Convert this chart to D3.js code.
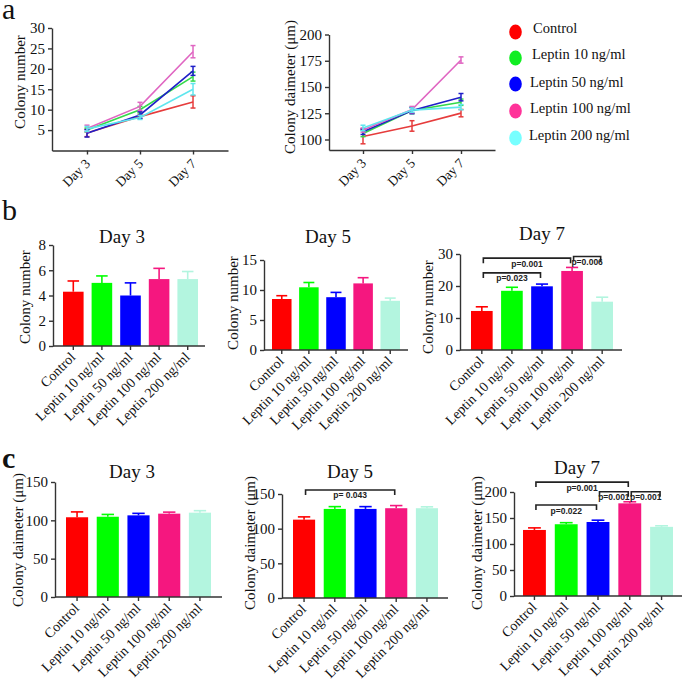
<!DOCTYPE html>
<html><head><meta charset="utf-8">
<script src="https://cdn.jsdelivr.net/npm/d3@7"></script>
<style>
body{margin:0;background:#fff}svg{display:block}
.serif{font-family:"Liberation Serif","Times New Roman","DejaVu Serif",serif}
.sans{font-family:"Liberation Sans",Arial,"DejaVu Sans",sans-serif}
svg text{font-family:"Liberation Serif","Times New Roman","DejaVu Serif",serif}
</style>
</head><body><svg id="c" width="684" height="693"></svg>
<script>
// ---------- data ----------
const days = ["Day 3", "Day 5", "Day 7"];
const groups = ["Control", "Leptin 10 ng/ml", "Leptin 50 ng/ml", "Leptin 100 ng/ml", "Leptin 200 ng/ml"];
const legendColors = ["#ff0000", "#11ee22", "#0000ff", "#ff3399", "#77ffff"];
const lineColors = ["#e63c3c", "#33d94a", "#1f1fc8", "#e066c2", "#5fe6ee"];
const barColors = ["#ff0000", "#00ff00", "#0000ff", "#f5177f", "#b3f5df"];

// panel a (rows = groups, columns = days)
const numLineMean = [[4.3, 8.3, 11.9], [5.0, 10.0, 18.1], [4.2, 8.7, 19.5], [5.4, 10.8, 24.2], [5.3, 8.1, 15.0]];
const numLineErr = [[0.9, 0.5, 1.5], [0.5, 0.8, 1.1], [0.9, 0.8, 1.1], [0.8, 1.0, 1.5], [0.6, 0.5, 1.4]];
const diaLineMean = [[102.9, 112.9, 125.1], [105.7, 127.6, 135.5], [107.4, 127.6, 140.3], [109.0, 128.5, 175.7], [111.0, 128.0, 130.8]];
const diaLineErr = [[7, 5, 3.5], [3, 3, 3], [2.6, 3, 3.5], [2, 3, 3], [2.6, 2, 2.5]];
const numTicks = [5, 10, 15, 20, 25, 30];
const diaTicks = [100, 125, 150, 175, 200];

// panel b: colony number
const numDay3Mean = [4.3, 5.0, 4.0, 5.3, 5.3];
const numDay3Err = [0.85, 0.55, 1.0, 0.85, 0.6];
const numDay5Mean = [8.5, 10.45, 8.8, 11.1, 8.2];
const numDay5Err = [0.55, 0.8, 0.8, 0.95, 0.45];
const numDay7Mean = [12.2, 18.5, 19.9, 24.7, 15.1];
const numDay7Err = [1.3, 1.1, 0.7, 1.1, 1.4];
const numDay7Brackets = [
  {from: 0, to: 3, y: 28.7, label: "p=0.001"},
  {from: 3, to: 4, y: 29.2, label: "p=0.006"},
  {from: 0, to: 2, y: 24.1, label: "p=0.023"}
];

// panel c: colony diameter
const diaDay3Mean = [104, 104.7, 106.5, 108.7, 110];
const diaDay3Err = [7, 3, 2.6, 2, 2.6];
const diaDay5Mean = [113, 128.5, 128.5, 129.5, 129.5];
const diaDay5Err = [4, 3.3, 3.3, 3.8, 2];
const diaDay5Brackets = [{from: 0, to: 3, y: 155.8, label: "p= 0.043"}];
const diaDay7Mean = [127, 138, 142.3, 178.2, 133];
const diaDay7Err = [4, 3, 3.5, 3, 2];
const diaDay7Brackets = [
  {from: 0, to: 3, y: 219, label: "p=0.001"},
  {from: 2, to: 3, y: 200.6, label: "p=0.001"},
  {from: 3, to: 4, y: 200.6, label: "p=0.001"},
  {from: 0, to: 2, y: 175, label: "p=0.022"}
];

// ---------- drawing ----------
const svg = d3.select("#c");
const AX = "#333";

function styleAxis(g) {
  g.attr("font-family", null);
  g.selectAll("path.domain").attr("stroke", AX).attr("stroke-width", 1.4);
  g.selectAll(".tick line").attr("stroke", AX).attr("stroke-width", 1.4);
  g.selectAll(".tick text").attr("class", "serif").style("font-size", "15px").attr("fill", "#111");
}

function txt(sel, size, cls) {
  return sel.attr("class", cls || "serif").style("font-size", size + "px").attr("fill", "#111");
}

function yLabel(text, x, y, size) {
  txt(svg.append("text"), size || 15).attr("transform", `translate(${x},${y}) rotate(-90)`)
    .attr("text-anchor", "middle").text(text);
}

function panelLetter(t, x, y, bold) {
  txt(svg.append("text"), 30).attr("x", x).attr("y", y)
    .style("font-weight", bold ? "bold" : "normal").text(t);
}

function lineChart(o) {
  const x = d3.scalePoint().domain(days).range([o.x0, o.x1]).padding(o.pad);
  const y = d3.scaleLinear().domain(o.domain).range([o.y0, o.yTop]);
  const gy = svg.append("g").attr("transform", `translate(${o.x0},0)`)
    .call(d3.axisLeft(y).tickValues(o.ticks).tickSize(4).tickSizeOuter(0));
  styleAxis(gy);
  const gx = svg.append("g").attr("transform", `translate(0,${o.y0})`)
    .call(d3.axisBottom(x).tickSize(4).tickSizeOuter(0));
  styleAxis(gx);
  gx.selectAll(".tick text").remove();
  days.forEach(d => {
    txt(svg.append("text"), 13.5).attr("transform", `translate(${x(d) + 4},${o.y0 + 14}) rotate(-45)`)
      .attr("text-anchor", "end").text(d);
  });
  const line = d3.line().x((v, i) => x(days[i])).y(v => y(v));
  o.mean.forEach((row, gi) => {
    const c = lineColors[gi];
    svg.append("path").attr("d", line(row)).attr("fill", "none").attr("stroke", c).attr("stroke-width", 1.6);
    row.forEach((v, di) => {
      const cx = x(days[di]), e = o.err[gi][di];
      const g = svg.append("g").attr("stroke", c).attr("stroke-width", 1.5);
      g.append("line").attr("x1", cx).attr("x2", cx).attr("y1", y(v - e)).attr("y2", y(v + e));
      g.append("line").attr("x1", cx - 2.5).attr("x2", cx + 2.5).attr("y1", y(v - e)).attr("y2", y(v - e));
      g.append("line").attr("x1", cx - 2.5).attr("x2", cx + 2.5).attr("y1", y(v + e)).attr("y2", y(v + e));
    });
  });
  yLabel(o.ylabel, o.labX, o.labY, 15);
}

function barChart(o) {
  const x = d3.scaleBand().domain(groups).range(o.band).paddingInner(0.28).paddingOuter(0);
  const y = d3.scaleLinear().domain([0, o.yMax]).range([o.y0, o.yTop]);
  const bw = x.bandwidth();
  o.mean.forEach((v, i) => {
    const g = groups[i];
    svg.append("rect").attr("x", x(g)).attr("y", y(v)).attr("width", bw)
      .attr("height", y(0) - y(v)).attr("fill", barColors[i]);
    const cx = x(g) + bw / 2, top = y(v + o.err[i]);
    const eg = svg.append("g").attr("stroke", barColors[i]).attr("stroke-width", 1.6);
    eg.append("line").attr("x1", cx).attr("x2", cx).attr("y1", y(v)).attr("y2", top);
    eg.append("line").attr("x1", cx - bw * 0.28).attr("x2", cx + bw * 0.28).attr("y1", top).attr("y2", top);
  });
  const gy = svg.append("g").attr("transform", `translate(${o.axisX},0)`)
    .call(d3.axisLeft(y).tickValues(o.ticks).tickSize(4).tickSizeOuter(0));
  styleAxis(gy);
  svg.append("line").attr("x1", o.axisX).attr("x2", o.axisEnd).attr("y1", o.y0).attr("y2", o.y0)
    .attr("stroke", AX).attr("stroke-width", 1.4);
  const gx = svg.append("g").attr("transform", `translate(0,${o.y0})`)
    .call(d3.axisBottom(x).tickSize(4).tickSizeOuter(0));
  gx.select("path.domain").remove();
  styleAxis(gx);
  gx.selectAll(".tick text").remove();
  groups.forEach(gname => {
    txt(svg.append("text"), 14).attr("transform", `translate(${x(gname) + bw / 2 + 3},${o.y0 + 12}) rotate(-45)`)
      .attr("text-anchor", "end").text(gname);
  });
  txt(svg.append("text"), 19).attr("x", o.titleX).attr("y", o.titleY).attr("text-anchor", "middle").text(o.title);
  yLabel(o.ylabel, o.labX, o.labY, 15);
  (o.brackets || []).forEach(b => {
    const x1 = x(groups[b.from]) + bw / 2 + 1.5, x2 = x(groups[b.to]) + bw / 2 - 1.5;
    const yy = y(b.y);
    svg.append("path").attr("d", `M${x1},${yy + 5}V${yy}H${x2}V${yy + 5}`)
      .attr("fill", "none").attr("stroke", "#222").attr("stroke-width", 1.6);
    txt(svg.append("text"), 8.5, "sans").attr("x", (x1 + x2) / 2).attr("y", yy + 8.5)
      .attr("text-anchor", "middle").style("font-weight", "bold").attr("fill", "#222").text(b.label);
  });
}

// panel a
panelLetter("a", 2, 19, false);
lineChart({mean: numLineMean, err: numLineErr, domain: [0, 30], ticks: numTicks,
  x0: 52, x1: 228, pad: 0.66, y0: 150.5, yTop: 28, ylabel: "Colony number", labX: 25, labY: 82});
lineChart({mean: diaLineMean, err: diaLineErr, domain: [90, 200], ticks: diaTicks,
  x0: 329, x1: 495, pad: 0.694, y0: 150, yTop: 34.5, ylabel: "Colony daimeter (\u03bcm)", labX: 295, labY: 87});

// legend
const legendY = [32, 58, 84, 111, 138];
const legendTextX = [533, 532, 530, 530, 529];
const legendTextDy = [1, 1, 3, 2, 2];
groups.forEach((gname, i) => {
  svg.append("ellipse").attr("cx", 515.5).attr("cy", legendY[i]).attr("rx", 6.3).attr("ry", 7.5).attr("fill", legendColors[i]);
  txt(svg.append("text"), 14.5).attr("x", legendTextX[i]).attr("y", legendY[i] + legendTextDy[i]).text(gname);
});

// panel b
panelLetter("b", 2, 220, false);
barChart({mean: numDay3Mean, err: numDay3Err, yMax: 8, ticks: [0, 2, 4, 6, 8],
  axisX: 53, axisEnd: 205, y0: 346, yTop: 245, band: [63, 198],
  title: "Day 3", titleX: 122, titleY: 243, ylabel: "Colony number", labX: 30, labY: 297});
barChart({mean: numDay5Mean, err: numDay5Err, yMax: 15, ticks: [0, 5, 10, 15],
  axisX: 264, axisEnd: 408, y0: 350, yTop: 260, band: [272, 400],
  title: "Day 5", titleX: 328, titleY: 243, ylabel: "Colony number", labX: 238, labY: 303});
barChart({mean: numDay7Mean, err: numDay7Err, yMax: 30, ticks: [0, 10, 20, 30],
  axisX: 460, axisEnd: 622, y0: 350, yTop: 254, band: [471, 613],
  title: "Day 7", titleX: 542, titleY: 240, ylabel: "Colony number", labX: 433, labY: 307,
  brackets: numDay7Brackets});

// panel c
panelLetter("c", 2, 468, true);
barChart({mean: diaDay3Mean, err: diaDay3Err, yMax: 150, ticks: [0, 50, 100, 150],
  axisX: 55, axisEnd: 222, y0: 597, yTop: 482, band: [66, 211],
  title: "Day 3", titleX: 132, titleY: 478, ylabel: "Colony daimeter (\u03bcm)", labX: 23, labY: 540});
barChart({mean: diaDay5Mean, err: diaDay5Err, yMax: 150, ticks: [0, 50, 100, 150],
  axisX: 282, axisEnd: 448, y0: 598, yTop: 494, band: [293, 438],
  title: "Day 5", titleX: 350, titleY: 478, ylabel: "Colony daimeter (\u03bcm)", labX: 255, labY: 543,
  brackets: diaDay5Brackets});
barChart({mean: diaDay7Mean, err: diaDay7Err, yMax: 200, ticks: [0, 50, 100, 150, 200],
  axisX: 514, axisEnd: 682, y0: 596, yTop: 492, band: [523, 673],
  title: "Day 7", titleX: 577, titleY: 474, ylabel: "Colony daimeter (\u03bcm)", labX: 482, labY: 543,
  brackets: diaDay7Brackets});
</script>
</body></html>
